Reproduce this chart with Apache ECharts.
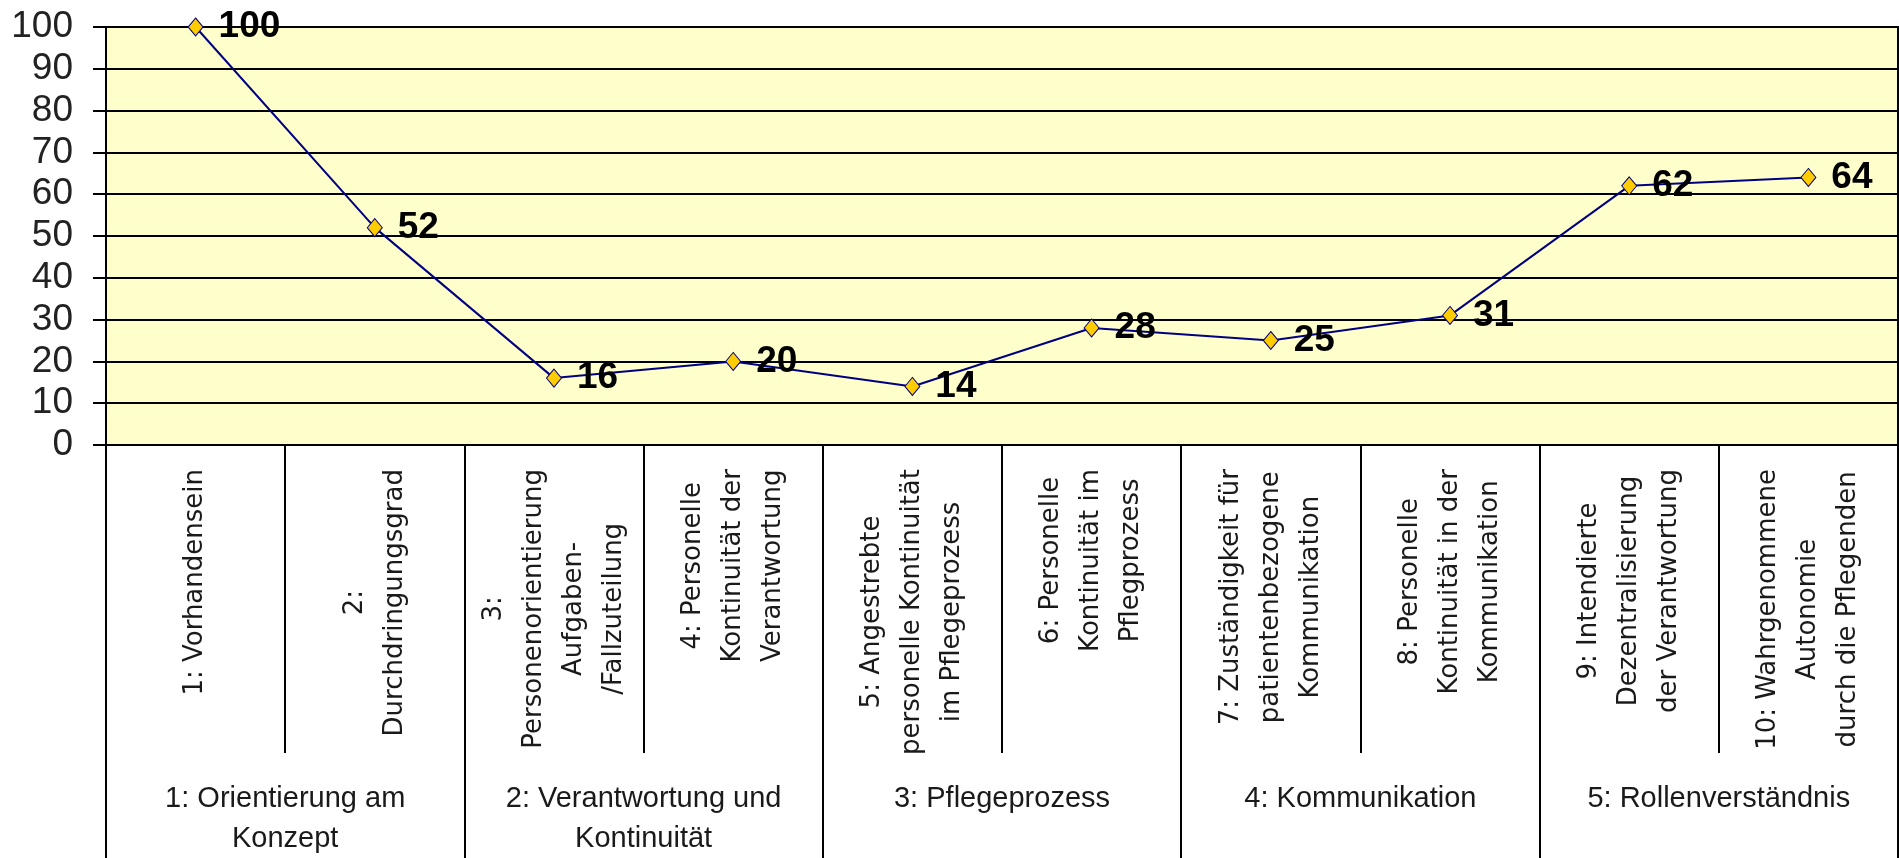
<!DOCTYPE html>
<html lang="de">
<head>
<meta charset="UTF-8">
<title>Profil</title>
<script src="https://cdn.jsdelivr.net/npm/echarts@6.0.0/dist/echarts.min.js"></script>
<style>
  html, body { margin: 0; padding: 0; background: #fff; }
  #main { width: 1899px; height: 858px; }
</style>
</head>
<body>
<div id="main"></div>
<script>
// Kriterien (untere Ebene)
var kriterien = [
  '1: Vorhandensein',
  '2:\nDurchdringungsgrad',
  '3:\nPersonenorientierung\nAufgaben-\n/Fallzuteilung',
  '4: Personelle\nKontinuität der\nVerantwortung',
  '5: Angestrebte\npersonelle Kontinuität\nim Pflegeprozess',
  '6: Personelle\nKontinuität im\nPflegprozess',
  '7: Zuständigkeit für\npatientenbezogene\nKommunikation',
  '8: Personelle\nKontinuität in der\nKommunikation',
  '9: Intendierte\nDezentralisierung\nder Verantwortung',
  '10: Wahrgenommene\nAutonomie\ndurch die Pflegenden'
];
// Dimensionen (obere Ebene, je zwei Kriterien)
var dimensionen = [
  '1: Orientierung am\nKonzept',
  '2: Verantwortung und\nKontinuität',
  '3: Pflegeprozess',
  '4: Kommunikation',
  '5: Rollenverständnis'
];
var werte = [100, 52, 16, 20, 14, 28, 25, 31, 62, 64];

var dom = document.getElementById('main');
var myChart = echarts.init(dom, null, { renderer: 'canvas' });

var option = {
  animation: false,
  backgroundColor: '#fff',
  grid: {
    left: 106, right: 1, top: 27, bottom: 413,
    show: true,
    backgroundColor: '#FFFFCC',
    borderColor: '#000',
    borderWidth: 2,
    outerBoundsMode: 'none'
  },
  xAxis: [
    {
      type: 'category',
      position: 'bottom',
      data: kriterien,
      boundaryGap: true,
      axisLine: { show: true, lineStyle: { color: '#000', width: 2 } },
      axisTick: { show: true, interval: 0, length: 308, lineStyle: { color: '#000', width: 2 } },
      axisLabel: {
        interval: 0,
        rotate: 90,
        margin: 24,
        fontFamily: 'DejaVu Sans',
        fontSize: 26,
        lineHeight: 40,
        color: '#1a1a1a',
        formatter: function (v) {
          return v.split('\n').map(function (l) { return '{c|' + l + '}'; }).join('\n');
        },
        rich: {
          c: { align: 'center', fontFamily: 'DejaVu Sans', fontSize: 26, lineHeight: 40, color: '#1a1a1a' }
        }
      },
      splitLine: { show: false }
    },
    {
      type: 'category',
      position: 'bottom',
      offset: 0,
      data: dimensionen,
      boundaryGap: true,
      axisLine: { show: false },
      axisTick: { show: true, interval: 0, length: 430, lineStyle: { color: '#000', width: 2 } },
      axisLabel: {
        interval: 0,
        margin: 334,
        fontFamily: 'Liberation Sans',
        fontSize: 29,
        lineHeight: 40,
        color: '#1a1a1a'
      },
      splitLine: { show: false }
    }
  ],
  yAxis: {
    type: 'value',
    min: 0,
    max: 100,
    interval: 10,
    axisLine: { show: true, lineStyle: { color: '#000', width: 2 } },
    axisTick: { show: true, length: 13, lineStyle: { color: '#000', width: 2 } },
    axisLabel: { margin: 33, fontFamily: 'Liberation Sans', fontSize: 37, color: '#222' },
    splitLine: { show: true, lineStyle: { color: '#000', width: 2 } }
  },
  series: [{
    type: 'line',
    xAxisIndex: 0,
    data: werte,
    symbol: 'diamond',
    symbolSize: [15, 18],
    itemStyle: { color: '#FFCC00', borderColor: '#000080', borderWidth: 1 },
    lineStyle: { color: '#000080', width: 2 },
    label: {
      show: true,
      position: 'right',
      distance: 15,
      fontFamily: 'Liberation Sans',
      fontSize: 37,
      fontWeight: 'bold',
      color: '#000'
    },
    z: 5
  }]
};

myChart.setOption(option);
</script>
</body>
</html>
